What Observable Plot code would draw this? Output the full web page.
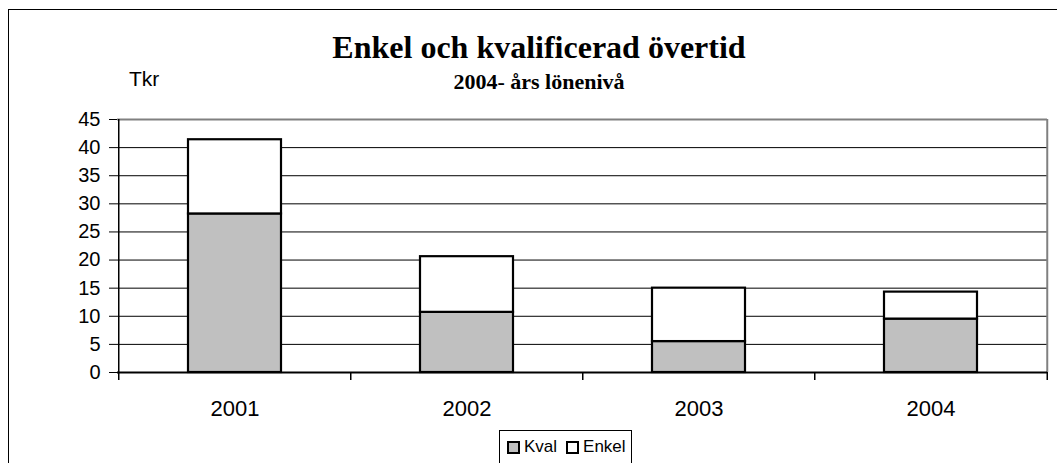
<!DOCTYPE html>
<html>
<head>
<meta charset="utf-8">
<script src="https://cdn.jsdelivr.net/npm/d3@7"></script>
<script src="https://cdn.jsdelivr.net/npm/@observablehq/plot@0.6"></script>
<style>
  html, body { margin: 0; padding: 0; background: #fff; }
  #wrap { position: relative; width: 1057px; height: 463px; overflow: hidden; background: #fff; }
  #frame { position: absolute; left: 8px; top: 9px; width: 1100px; height: 520px; border: 1px solid #000; box-sizing: border-box; }
  #chart { position: absolute; left: 0; top: 0; }
  .title { position: absolute; left: 0; width: 1078px; text-align: center; font-family: "Liberation Serif", "Times New Roman", serif; font-weight: bold; color: #000; white-space: nowrap; }
  #t1 { top: 31px; font-size: 32px; line-height: 32px; }
  #t2 { top: 71px; font-size: 22px; line-height: 22px; }
  #unit { position: absolute; left: 129px; top: 68px; font-family: "Liberation Sans", Arial, sans-serif; font-size: 21px; line-height: 22px; }
  #legend { position: absolute; left: 499px; top: 430px; width: 133px; height: 60px; border: 1px solid #000; box-sizing: border-box; font-family: "Liberation Sans", Arial, sans-serif; font-size: 17px; padding: 6px 0 0 7px; white-space: nowrap; }
  #legend .item { display: inline-flex; align-items: center; margin-right: 9px; }
  #legend .sw { display: inline-block; width: 9px; height: 9px; border: 2px solid #000; margin-right: 4px; box-sizing: content-box; }
</style>
</head>
<body>
<div id="wrap">
  <div id="frame"></div>
  <div id="chart"></div>
  <div class="title" id="t1"></div>
  <div class="title" id="t2"></div>
  <div id="unit"></div>
  <div id="legend"></div>
</div>
<script>
const titleText = "Enkel och kvalificerad övertid";
const subtitleText = "2004- års lönenivå";
const unitText = "Tkr";
const years = ["2001", "2002", "2003", "2004"];
const seriesNames = ["Kval", "Enkel"];
const seriesColors = ["#c0c0c0", "#ffffff"];
const kval = [28.2, 10.7, 5.5, 9.5];
const enkel = [13.2, 9.9, 9.5, 4.8];
const yTicks = [0, 5, 10, 15, 20, 25, 30, 35, 40, 45];

const rows = [];
years.forEach((y, i) => {
  rows.push({year: y, series: seriesNames[0], value: kval[i]});
  rows.push({year: y, series: seriesNames[1], value: enkel[i]});
});

const W = 1057, H = 463, mL = 117, mR = 10, mT = 119, mB = 91;
const step = (W - mL - mR) / years.length;

const chart = Plot.plot({
  width: W,
  height: H,
  marginLeft: mL,
  marginRight: mR,
  marginTop: mT,
  marginBottom: mB,
  style: {background: "transparent", fontFamily: "'Liberation Sans', Arial, sans-serif", color: "#000"},
  x: {type: "band", domain: years, paddingInner: 0.6, paddingOuter: 0.3, axis: null, label: null},
  y: {domain: [0, 45], axis: null, label: null},
  color: {domain: seriesNames, range: seriesColors},
  marks: [
    Plot.gridY(yTicks, {stroke: "#000", strokeOpacity: 1, strokeWidth: 1}),
    Plot.ruleY([45], {stroke: "#808080", strokeWidth: 2}),
    Plot.ruleX([years[years.length - 1]], {stroke: "#808080", strokeWidth: 2, dx: step / 2, y1: 0, y2: 45}),
    Plot.barY(rows, {x: "year", y: "value", fill: "series", stroke: "#000", strokeWidth: 2.2}),
    Plot.ruleY([0], {stroke: "#000", strokeWidth: 2}),
    Plot.axisY({ticks: yTicks, tickSize: 8, tickPadding: 9, fontSize: 20, stroke: "#000", label: null}),
    Plot.ruleX([years[0]], {stroke: "#000", strokeWidth: 1.5, dx: -step / 2, y1: 0, y2: 45}),
    Plot.axisX({tickSize: 8, text: null, dx: -step / 2, stroke: "#000", strokeWidth: 1.5, label: null}),
    Plot.axisX([years[years.length - 1]], {tickSize: 8, text: null, dx: step / 2, stroke: "#000", strokeWidth: 1.5, label: null}),
    Plot.axisX({tickSize: 0, tickPadding: 28, fontSize: 22, label: null})
  ]
});
document.getElementById("chart").appendChild(chart);
document.getElementById("t1").textContent = titleText;
document.getElementById("t2").textContent = subtitleText;
document.getElementById("unit").textContent = unitText;
const lg = document.getElementById("legend");
seriesNames.forEach((n, i) => {
  const it = document.createElement("span");
  it.className = "item";
  const sw = document.createElement("span");
  sw.className = "sw";
  sw.style.background = seriesColors[i];
  it.appendChild(sw);
  it.appendChild(document.createTextNode(n));
  lg.appendChild(it);
});
</script>
</body>
</html>
